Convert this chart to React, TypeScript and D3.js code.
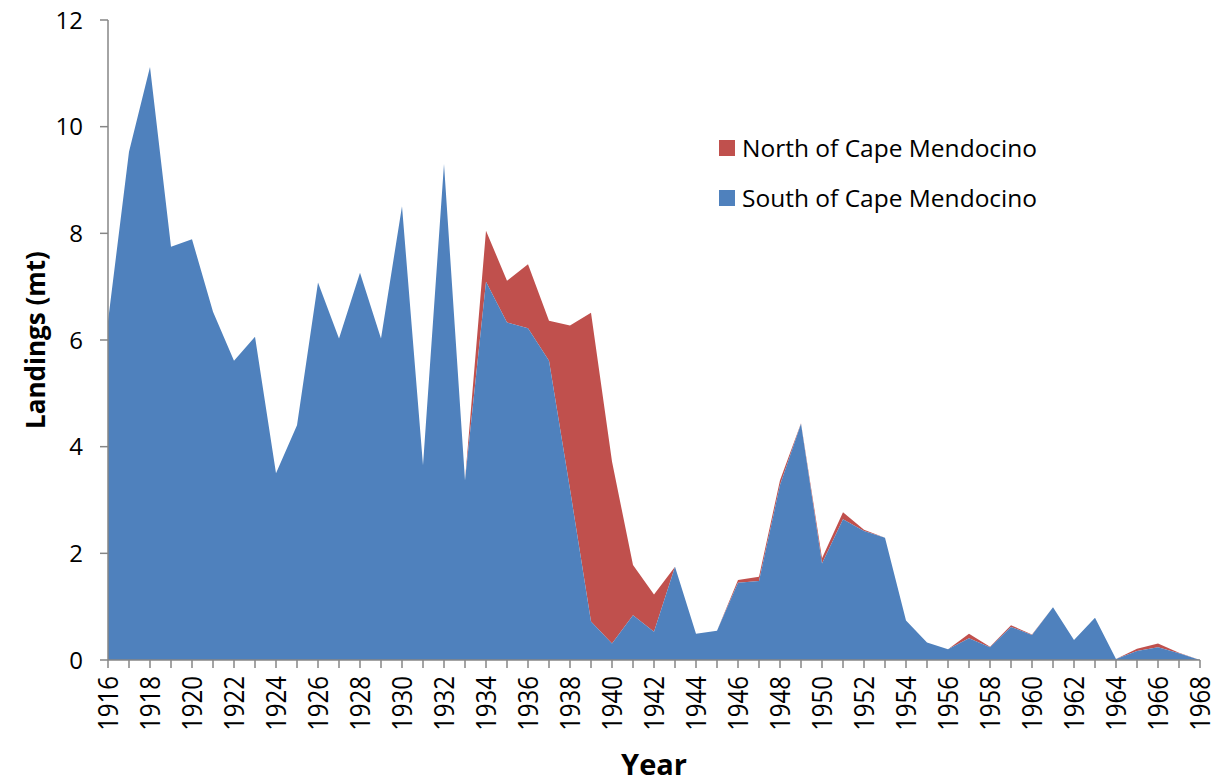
import React from "react";
import * as d3 from "d3";

const years = [
  1916, 1917, 1918, 1919, 1920, 1921, 1922, 1923, 1924, 1925, 1926, 1927, 1928,
  1929, 1930, 1931, 1932, 1933, 1934, 1935, 1936, 1937, 1938, 1939, 1940, 1941,
  1942, 1943, 1944, 1945, 1946, 1947, 1948, 1949, 1950, 1951, 1952, 1953, 1954,
  1955, 1956, 1957, 1958, 1959, 1960, 1961, 1962, 1963, 1964, 1965, 1966, 1967,
  1968,
];

const southValues = [
  6.35, 9.53, 11.12, 7.75, 7.89, 6.53, 5.61, 6.06, 3.5, 4.4, 7.08, 6.03, 7.26,
  6.03, 8.51, 3.65, 9.3, 3.37, 7.09, 6.33, 6.22, 5.61, 3.2, 0.72, 0.31, 0.84,
  0.53, 1.75, 0.49, 0.55, 1.45, 1.48, 3.28, 4.43, 1.81, 2.64, 2.42, 2.29, 0.74,
  0.33, 0.2, 0.41, 0.24, 0.62, 0.47, 0.99, 0.375, 0.79, 0.02, 0.17, 0.24, 0.125,
  0,
];

const northValues = [
  0, 0, 0, 0, 0, 0, 0, 0, 0, 0, 0, 0, 0, 0, 0, 0, 0, 0, 0.96, 0.78, 1.2, 0.75,
  3.07, 5.79, 3.41, 0.94, 0.7, 0, 0, 0, 0.05, 0.08, 0.09, 0.01, 0.1, 0.13, 0.02,
  0, 0, 0, 0, 0.08, 0.01, 0.03, 0.01, 0, 0, 0, 0, 0.04, 0.07, 0.01, 0,
];

const yTicks = [0, 2, 4, 6, 8, 10, 12];
const xLabelYears = years.filter((y) => (y - 1916) % 2 === 0);

const seriesNames = ["North of Cape Mendocino", "South of Cape Mendocino"];
const colors = { north: "#C0504D", south: "#4F81BD" };

const W = 1221;
const H = 782;
const FONT = "'Open Sans', 'Liberation Sans', sans-serif";

export default function App() {
  const x = d3.scaleLinear().domain([1916, 1968]).range([108, 1200]);
  const y = d3.scaleLinear().domain([0, 12]).range([660, 20]);

  const rows = years.map((yr, i) => ({
    year: yr,
    south: southValues[i],
    north: northValues[i],
  }));
  const stack = d3.stack<any>().keys(["south", "north"]);
  const stacked = stack(rows);

  const area = d3
    .area<any>()
    .x((d) => x(d.data.year))
    .y0((d) => y(d[0]))
    .y1((d) => y(d[1]));

  const axisColor = "#868686";

  return (
    <svg
      width={W}
      height={H}
      style={{ position: "absolute", left: 0, top: 0, background: "#fff" }}
      fontFamily={FONT}
    >
      <path d={area(stacked[1]) || ""} fill={colors.north} />
      <path d={area(stacked[0]) || ""} fill={colors.south} />

      {/* y axis */}
      <line x1={108} x2={108} y1={y(12)} y2={y(0)} stroke={axisColor} strokeWidth={1.5} />
      {yTicks.map((t) => (
        <g key={t}>
          <line x1={100} x2={108} y1={y(t)} y2={y(t)} stroke={axisColor} strokeWidth={1.5} />
          <text x={83} y={y(t)} dy="0.36em" textAnchor="end" fontSize={24} fill="#000">
            {t}
          </text>
        </g>
      ))}

      {/* x axis */}
      <line x1={108} x2={1200} y1={660} y2={660} stroke={axisColor} strokeWidth={1.5} />
      {years.map((yr) => (
        <line
          key={yr}
          x1={x(yr)}
          x2={x(yr)}
          y1={660}
          y2={668}
          stroke={axisColor}
          strokeWidth={1.5}
        />
      ))}
      {xLabelYears.map((yr) => (
        <text
          key={yr}
          transform={`translate(${x(yr)},676) rotate(-90) scale(1,1.12)`}
          textAnchor="end"
          dy="0.36em"
          fontSize={24}
          fill="#000"
        >
          {yr}
        </text>
      ))}

      {/* axis titles */}
      <text x={654} y={775} textAnchor="middle" fontSize={29} fontWeight="bold" fill="#000">
        Year
      </text>
      <text
        transform={`translate(36,${y(6)}) rotate(-90)`}
        textAnchor="middle"
        dy="0.36em"
        fontSize={26}
        fontWeight="bold"
        fill="#000"
      >
        Landings (mt)
      </text>

      {/* legend */}
      {seriesNames.map((name, i) => (
        <g key={name} transform={`translate(719,${140 + i * 50})`}>
          <rect width={16} height={16} fill={i === 0 ? colors.north : colors.south} />
          <text x={23} y={8} dy="0.36em" fontSize={24.5} fill="#000">
            {name}
          </text>
        </g>
      ))}
    </svg>
  );
}
